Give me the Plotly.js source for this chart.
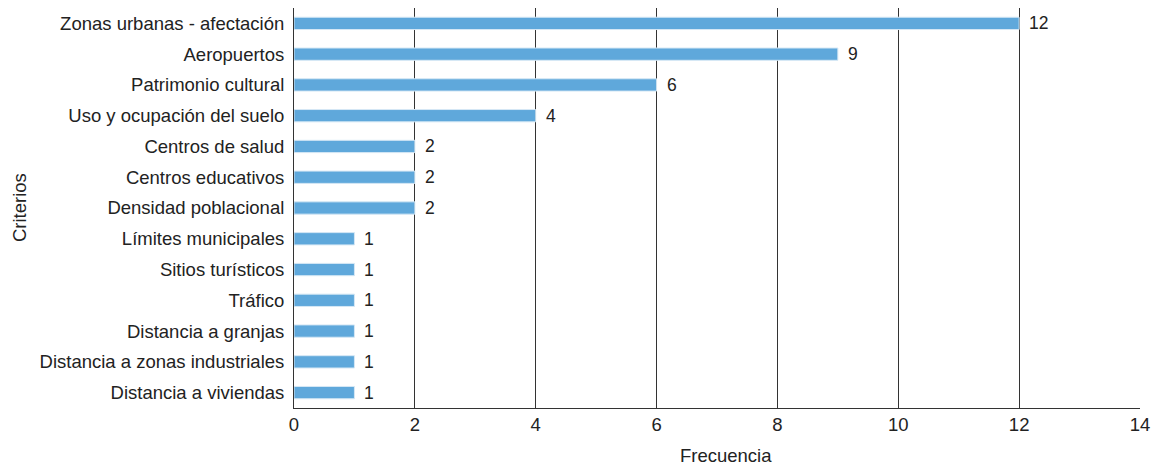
<!DOCTYPE html>
<html>
<head>
<meta charset="utf-8">
<script src="https://cdn.plot.ly/plotly-3.0.1.min.js"></script>
<style>html,body{margin:0;padding:0;background:#fff;}#chart{width:1158px;height:466px;}</style>
</head>
<body>
<div id="chart"></div>
<script>
const categories = [
  "Zonas urbanas - afectación",
  "Aeropuertos",
  "Patrimonio cultural",
  "Uso y ocupación del suelo",
  "Centros de salud",
  "Centros educativos",
  "Densidad poblacional",
  "Límites municipales",
  "Sitios turísticos",
  "Tráfico",
  "Distancia a granjas",
  "Distancia a zonas industriales",
  "Distancia a viviendas"
];
const frecuencia = [12, 9, 6, 4, 2, 2, 2, 1, 1, 1, 1, 1, 1];
const xTicks = [0, 2, 4, 6, 8, 10, 12, 14];
const xTitle = "Frecuencia";
const yTitle = "Criterios";

const fam = "Liberation Sans, Arial, sans-serif";
const font = {family: fam, size: 18.5, color: "#222"};
const valFont = {family: fam, size: 17.5, color: "#222"};
const titleFont = {family: fam, size: 18.5, color: "#222"};

const labels = categories.map((c, i) => ({
  x: frecuencia[i], y: c, xref: "x", yref: "y",
  text: String(frecuencia[i]), showarrow: false,
  xanchor: "left", xshift: 8, font: valFont
}));

labels.push({
  xref: "paper", yref: "paper", x: 0.5103, y: -0.0875,
  xanchor: "center", yanchor: "top", showarrow: false,
  text: xTitle, font: titleFont
});
labels.push({
  xref: "paper", yref: "paper", x: -0.325, y: 0.5,
  xanchor: "center", yanchor: "middle", showarrow: false,
  textangle: -90, text: yTitle, font: titleFont
});

Plotly.newPlot("chart", [{
  type: "bar",
  orientation: "h",
  y: categories,
  x: frecuencia,
  width: 0.4,
  marker: {color: "#5fa8db", line: {color: "#d6e8f5", width: 1}},
  hoverinfo: "none"
}], {
  width: 1158, height: 466,
  margin: {l: 294, r: 18, t: 8, b: 58},
  paper_bgcolor: "#fff", plot_bgcolor: "#fff",
  font: font,
  showlegend: false,
  annotations: labels,
  xaxis: {
    range: [0, 14],
    tickvals: xTicks,
    ticktext: xTicks.map(String),
    showgrid: true, gridcolor: "#333", gridwidth: 1,
    zeroline: false,
    showline: true, linecolor: "#333", linewidth: 1,
    ticks: "", tickfont: font,
    automargin: false
  },
  yaxis: {
    autorange: "reversed",
    showgrid: false, zeroline: false,
    showline: true, linecolor: "#333", linewidth: 1,
    ticks: "outside", ticklen: 5, tickcolor: "rgba(0,0,0,0)", tickfont: font,
    automargin: false
  }
}, {staticPlot: true});
</script>
</body>
</html>
